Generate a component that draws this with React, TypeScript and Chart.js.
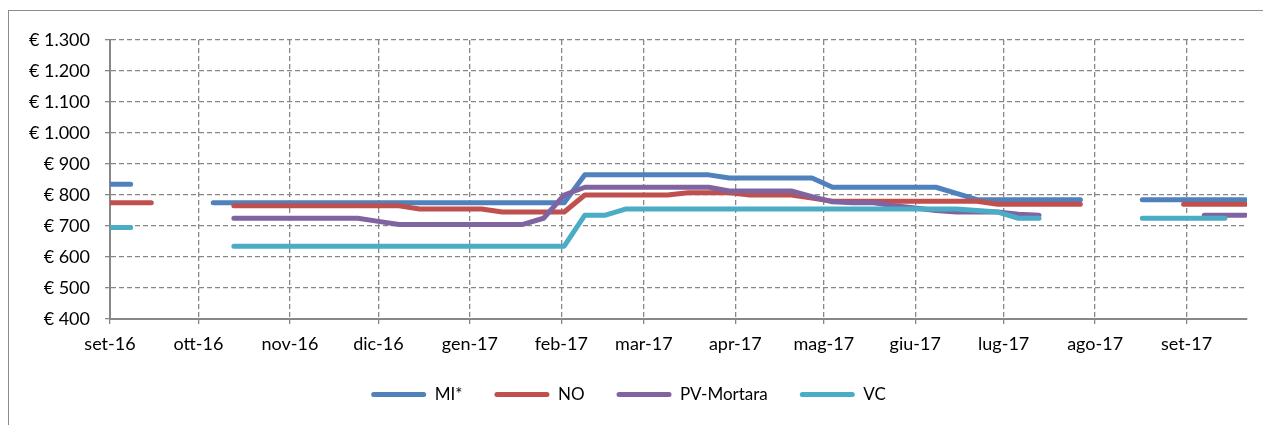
import React, { useEffect, useRef } from "react";
import { Chart, registerables } from "chart.js";

Chart.register(...registerables);

// Weekly quotation dates (Thursdays)
const weekDates = [
  "2016-09-01", "2016-09-08", "2016-09-15", "2016-09-22", "2016-09-29",
  "2016-10-06", "2016-10-13", "2016-10-20", "2016-10-27",
  "2016-11-03", "2016-11-10", "2016-11-17", "2016-11-24",
  "2016-12-01", "2016-12-08", "2016-12-15", "2016-12-22", "2016-12-29",
  "2017-01-05", "2017-01-12", "2017-01-19", "2017-01-26",
  "2017-02-02", "2017-02-09", "2017-02-16", "2017-02-23",
  "2017-03-02", "2017-03-09", "2017-03-16", "2017-03-23", "2017-03-30",
  "2017-04-06", "2017-04-13", "2017-04-20", "2017-04-27",
  "2017-05-04", "2017-05-11", "2017-05-18", "2017-05-25",
  "2017-06-01", "2017-06-08", "2017-06-15", "2017-06-22", "2017-06-29",
  "2017-07-06", "2017-07-13", "2017-07-20", "2017-07-27",
  "2017-08-03", "2017-08-10", "2017-08-17", "2017-08-24", "2017-08-31",
  "2017-09-07", "2017-09-14", "2017-09-21",
];

const miValues = [
  835, 835, null, null, null,
  775, 775, 775, 775,
  775, 775, 775, 775,
  775, 775, 775, 775, 775,
  775, 775, 775, 775,
  775, 865, 865, 865,
  865, 865, 865, 865, 855,
  855, 855, 855, 855,
  825, 825, 825, 825,
  825, 825, 805, 785, 785,
  785, 785, 785, 785,
  null, null, 785, 785, 785,
  785, 785, 785,
];

const noValues = [
  775, 775, 775, null, null,
  null, 765, 765, 765,
  765, 765, 765, 765,
  765, 765, 755, 755, 755,
  755, 745, 745, 745,
  745, 800, 800, 800,
  800, 800, 807, 807, 807,
  800, 800, 800, 790,
  780, 780, 780, 780,
  780, 780, 780, 780, 770,
  770, 770, 770, 770,
  null, null, null, null, 770,
  770, 770, 770,
];

const pvValues = [
  null, null, null, null, null,
  null, 725, 725, 725,
  725, 725, 725, 725,
  715, 705, 705, 705, 705,
  705, 705, 705, 725,
  800, 825, 825, 825,
  825, 825, 825, 825, 813,
  813, 813, 813, 795,
  778, 775, 775, 765,
  758, 750, 745, 745, 745,
  738, 735, null, null,
  null, null, null, null, null,
  735, 735, 735,
];

const vcValues = [
  695, 695, null, null, null,
  null, 635, 635, 635,
  635, 635, 635, 635,
  635, 635, 635, 635, 635,
  635, 635, 635, 635,
  635, 735, 735, 755,
  755, 755, 755, 755, 755,
  755, 755, 755, 755,
  755, 755, 755, 755,
  755, 755, 755, 750, 745,
  725, 725, null, null,
  null, null, 725, 725, 725,
  725, 725, null,
];

const seriesNames = ["MI*", "NO", "PV-Mortara", "VC"];
const seriesColors = ["#4F81BD", "#C0504D", "#8064A2", "#4BACC6"];

const monthTickDates = [
  "2016-09-01", "2016-10-01", "2016-11-01", "2016-12-01", "2017-01-01",
  "2017-02-01", "2017-03-01", "2017-04-01", "2017-05-01", "2017-06-01",
  "2017-07-01", "2017-08-01", "2017-09-01",
];
const monthTickLabels = [
  "set-16", "ott-16", "nov-16", "dic-16", "gen-17", "feb-17", "mar-17",
  "apr-17", "mag-17", "giu-17", "lug-17", "ago-17", "set-17",
];

const yMin = 400;
const yMax = 1300;
const yStep = 100;

const ORIGIN = Date.UTC(2016, 8, 1);
function dayOf(s: string): number {
  const [y, m, d] = s.split("-").map(Number);
  return Math.round((Date.UTC(y, m - 1, d) - ORIGIN) / 86400000);
}

function euro(v: number): string {
  const n = Math.round(v);
  if (n >= 1000) {
    const th = Math.floor(n / 1000);
    const rest = String(n % 1000).padStart(3, "0");
    return "€ " + th + "." + rest;
  }
  return "€ " + n;
}

const FONT = "Lato";
const GRID = "#878787";

const framePlugin = {
  id: "frame",
  beforeDraw(chart: any) {
    const ctx = chart.ctx;
    ctx.save();
    ctx.strokeStyle = "#8c8c8c";
    ctx.lineWidth = 1;
    ctx.strokeRect(8.5, 10.5, chart.width + 20, chart.height + 20);
    ctx.restore();
  },
};

export default function App() {
  const ref = useRef<HTMLCanvasElement | null>(null);

  useEffect(() => {
    if (!ref.current) return;
    const monthDays = monthTickDates.map(dayOf);
    const xs = weekDates.map(dayOf);
    const all = [miValues, noValues, pvValues, vcValues];
    const datasets = all.map((vals, i) => ({
      label: seriesNames[i],
      data: xs.map((x, j) => ({ x, y: vals[j] })),
      borderColor: seriesColors[i],
      backgroundColor: seriesColors[i],
      borderWidth: 5,
      borderCapStyle: "round" as const,
      borderJoinStyle: "round" as const,
      pointRadius: 0,
      pointHoverRadius: 0,
      tension: 0,
      spanGaps: false,
      fill: false,
      order: 3 - i,
    }));

    const chart = new Chart(ref.current, {
      type: "line",
      data: { datasets },
      plugins: [framePlugin],
      options: {
        animation: false,
        responsive: false,
        maintainAspectRatio: false,
        layout: { padding: { left: 10, right: 16, top: 40, bottom: 12 } },
        plugins: {
          tooltip: { enabled: false },
          title: { display: false },
          legend: {
            position: "bottom",
            labels: {
              font: { family: FONT, size: 17 },
              color: "#000",
              boxWidth: 55,
              boxHeight: 5,
              padding: 32,
              generateLabels: () =>
                seriesNames.map((n, i) => ({
                  text: n,
                  fillStyle: seriesColors[i],
                  strokeStyle: seriesColors[i],
                  lineWidth: 0,
                  borderRadius: 2.5,
                  datasetIndex: i,
                  hidden: false,
                  fontColor: "#000",
                })),
            },
          },
        },
        scales: {
          x: {
            type: "linear",
            min: 0,
            max: 385.5,
            afterBuildTicks: (axis: any) => {
              axis.ticks = monthDays.map((v) => ({ value: v }));
            },
            afterFit: (axis: any) => {
              axis.height = 35;
            },
            ticks: {
              autoSkip: false,
              maxRotation: 0,
              minRotation: 0,
              padding: 9,
              color: "#000",
              font: { family: FONT, size: 18 },
              callback: (value: any) => {
                const i = monthDays.indexOf(Number(value));
                return i >= 0 ? monthTickLabels[i] : "";
              },
            },
            grid: { color: GRID, lineWidth: 1.3, tickLength: 5, tickColor: GRID },
            border: { color: GRID, width: 2, dash: [5, 3] },
          },
          y: {
            type: "linear",
            min: yMin,
            max: yMax,
            afterFit: (axis: any) => {
              axis.width = 100;
            },
            ticks: {
              stepSize: yStep,
              padding: 15,
              color: "#000",
              font: { family: FONT, size: 18 },
              callback: (value: any) => euro(Number(value)),
            },
            grid: { color: GRID, lineWidth: 1.3, tickLength: 5, tickColor: GRID },
            border: { color: GRID, width: 2, dash: [5, 3] },
          },
        },
      },
    });
    return () => chart.destroy();
  }, []);

  return (
    <div style={{ position: "absolute", left: 0, top: 0, width: 1263, height: 425, background: "#fff" }}>
      <canvas ref={ref} width={1263} height={425} style={{ width: 1263, height: 425, display: "block" }} />
    </div>
  );
}
